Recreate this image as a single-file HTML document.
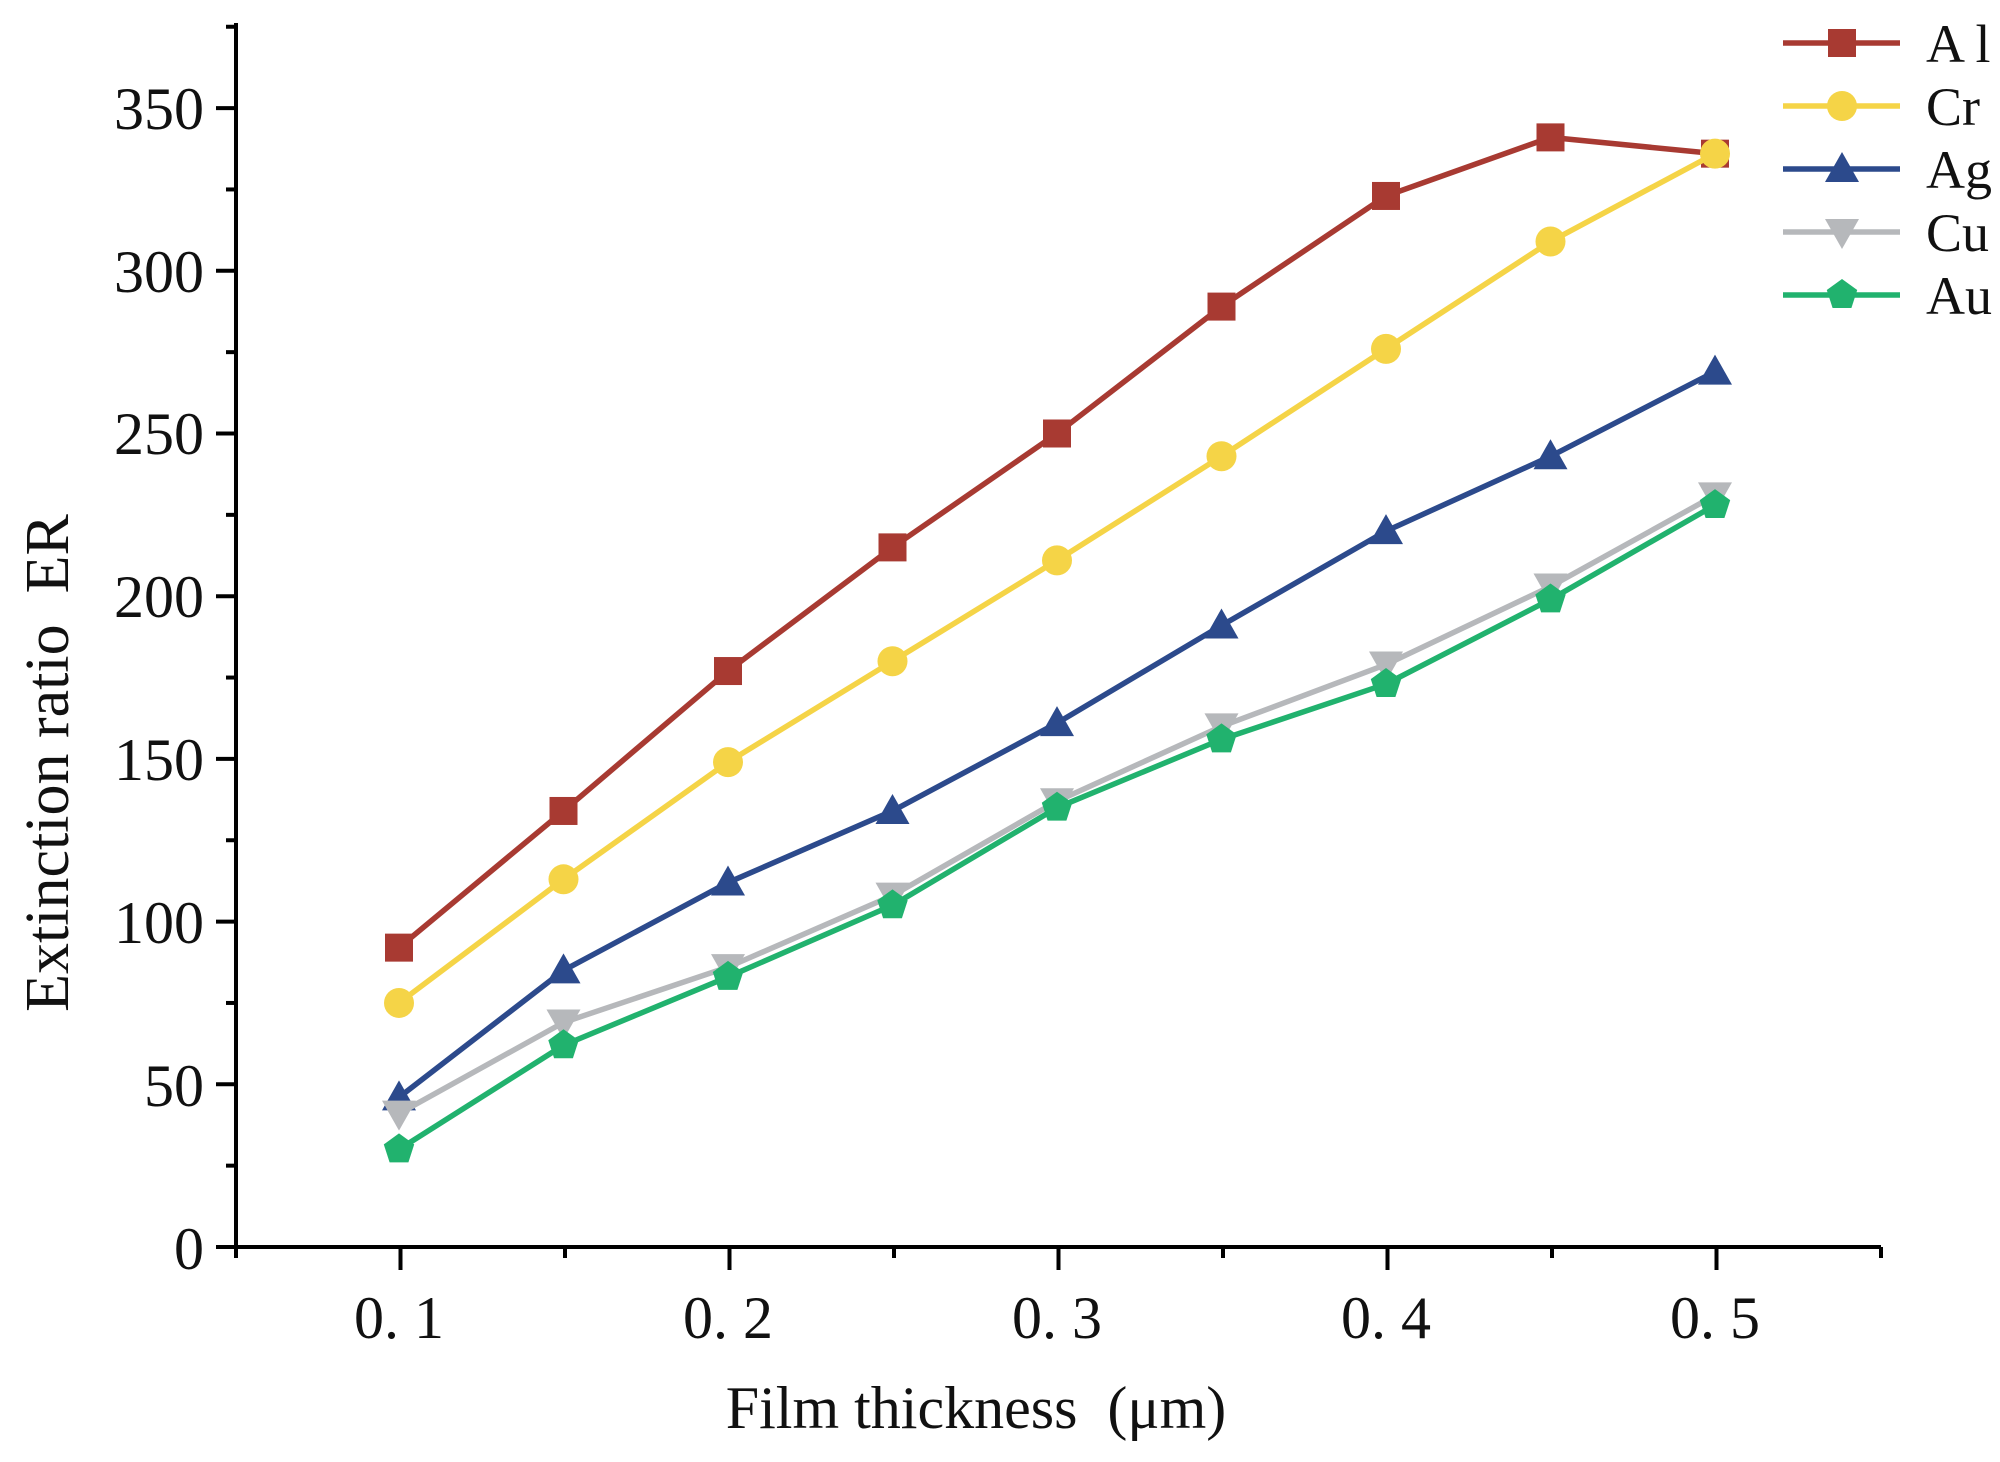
<!DOCTYPE html>
<html><head><meta charset="utf-8"><style>
html,body{margin:0;padding:0;background:#fff;}
svg{display:block;}
text{font-family:"Liberation Serif","Noto Serif CJK SC",serif;fill:#111;white-space:pre;}
</style></head><body>
<svg id="s" width="2000" height="1462" viewBox="0 0 2000 1462" xmlns="http://www.w3.org/2000/svg">
<rect width="2000" height="1462" fill="#fff"/>
<g stroke="#000" stroke-width="4" fill="none">
<line x1="236" y1="23" x2="236" y2="1249"/>
<line x1="234" y1="1247" x2="1881" y2="1247"/>
</g>
<g id="ticks" stroke="#000" stroke-width="4"></g>
<g font-size="60" text-anchor="end">
<text x="204" y="1269">0</text>
<text x="204" y="1106">50</text>
<text x="204" y="943">100</text>
<text x="204" y="780">150</text>
<text x="204" y="617">200</text>
<text x="204" y="454">250</text>
<text x="204" y="292">300</text>
<text x="204" y="129">350</text>
</g>
<g font-size="60" text-anchor="middle">
<text x="399" y="1338">0. 1</text>
<text x="728" y="1338">0. 2</text>
<text x="1057" y="1338">0. 3</text>
<text x="1386" y="1338">0. 4</text>
<text x="1715" y="1338">0. 5</text>
</g>
<text x="976" y="1428" font-size="60" text-anchor="middle">Film thickness  (μm)</text>
<text transform="translate(68,763) rotate(-90)" font-size="62" text-anchor="middle">Extinction ratio  ER</text>
<g id="series"></g>
<g id="legend" font-size="54"></g>
</svg>
<script>
var ns="http://www.w3.org/2000/svg";
function el(t,a,p){var e=document.createElementNS(ns,t);for(var k in a)e.setAttribute(k,a[k]);p.appendChild(e);return e;}
var T=document.getElementById('ticks');
for(var v=0;v<=375;v+=25){var y=1247-v*3.254;el('line',{x1:(v%50==0?216:226),y1:y,x2:236,y2:y},T);}
for(var i=0;i<=10;i++){var x=236+i*164.5;el('line',{x1:x,y1:1247,x2:x,y2:(i%2==1?1270:1258)},T);}
function Y(v){return 1247-v*3.254;}
var S=[
{c:'#a83a32',m:'sq',d:[92,134,177,215,250,289,323,341,336]},
{c:'#f5d447',m:'ci',d:[75,113,149,180,211,243,276,309,336]},
{c:'#2c4a8c',m:'tu',d:[46,85,112,134,161,191,220,243,269]},
{c:'#b6b8bb',m:'td',d:[41,69,86,108,137,160,179,203,231]},
{c:'#21b26e',m:'pe',d:[30,62,83,105,135,156,173,199,228]}];
var G=document.getElementById('series');
function mk(m,x,y,c,p){
 if(m=='sq')el('rect',{x:x-14,y:y-14,width:28,height:28,fill:c},p);
 else if(m=='ci')el('circle',{cx:x,cy:y,r:15,fill:c},p);
 else if(m=='tu')el('polygon',{points:(x)+','+(y-17)+' '+(x-17)+','+(y+13)+' '+(x+17)+','+(y+13),fill:c},p);
 else if(m=='td')el('polygon',{points:(x)+','+(y+17)+' '+(x-17)+','+(y-13)+' '+(x+17)+','+(y-13),fill:c},p);
 else {var pts=[];for(var k=0;k<5;k++){var a=-Math.PI/2+k*2*Math.PI/5;pts.push((x+16*Math.cos(a))+','+(y+16*Math.sin(a)));}el('polygon',{points:pts.join(' '),fill:c},p);}
}
S.forEach(function(s){
 var pts=s.d.map(function(v,i){return (399+i*164.5)+','+Y(v);});
 el('polyline',{points:pts.join(' '),fill:'none',stroke:s.c,'stroke-width':5.5,'stroke-linejoin':'round'},G);
 s.d.forEach(function(v,i){mk(s.m,399+i*164.5,Y(v),s.c,G);});
});
var L=document.getElementById('legend');var names=['A l','Cr','Ag','Cu','Au'];
S.forEach(function(s,i){var y=43+i*63;
 el('line',{x1:1783,y1:y,x2:1900,y2:y,stroke:s.c,'stroke-width':5.5},L);
 mk(s.m,1842,y,s.c,L);
 var t=el('text',{x:1926,y:y+19},L);t.textContent=names[i];});
</script>
</body></html>
